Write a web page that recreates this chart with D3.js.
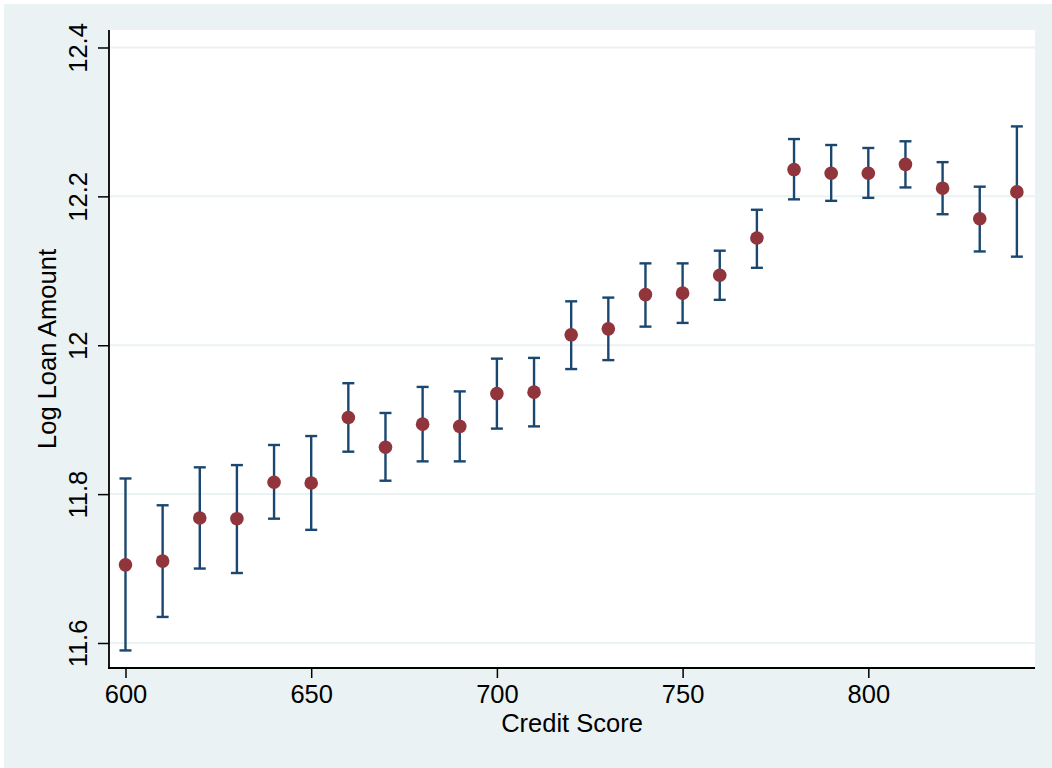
<!DOCTYPE html>
<html>
<head>
<meta charset="utf-8">
<script src="https://cdn.jsdelivr.net/npm/d3@7"></script>
<style>
  html, body { margin: 0; padding: 0; background: #ffffff; }
  svg { display: block; }
  text { font-family: "Liberation Sans", Arial, sans-serif; fill: #000; }
</style>
</head>
<body>
<svg id="chart" width="1052" height="768"></svg>
<script>
// Credit score bins and estimated log loan amount with 95% confidence bounds
const creditScores = [600, 610, 620, 630, 640, 650, 660, 670, 680, 690, 700, 710,
                      720, 730, 740, 750, 760, 770, 780, 790, 800, 810, 820, 830, 840];
const meanLogLoan = [11.705, 11.710, 11.768, 11.767, 11.816, 11.815, 11.903, 11.863,
                     11.894, 11.891, 11.935, 11.937, 12.014, 12.022, 12.068, 12.070,
                     12.094, 12.144, 12.236, 12.231, 12.231, 12.243, 12.211, 12.170, 12.206];
const lowerBound = [11.590, 11.635, 11.700, 11.694, 11.767, 11.752, 11.857, 11.818,
                    11.844, 11.844, 11.888, 11.891, 11.968, 11.980, 12.025, 12.030,
                    12.061, 12.104, 12.196, 12.194, 12.198, 12.212, 12.176, 12.126, 12.119];
const upperBound = [11.821, 11.785, 11.836, 11.839, 11.866, 11.878, 11.949, 11.909,
                    11.944, 11.938, 11.982, 11.983, 12.059, 12.064, 12.110, 12.110,
                    12.127, 12.182, 12.277, 12.269, 12.265, 12.274, 12.246, 12.213, 12.294];
const xTicks = [600, 650, 700, 750, 800];
const yTicks = [11.6, 11.8, 12, 12.2, 12.4];

const svg = d3.select("#chart");
const W = 1052, H = 768;
const plot = { left: 109, right: 1035, top: 30, bottom: 668 };
const bg = "#eaf2f3";
const barColor = "#1a476f";
const dotColor = "#90353b";
const fontSize = 25.5;

// Outer graph region
svg.append("rect").attr("x", 4).attr("y", 4).attr("width", W - 4).attr("height", H - 4).attr("fill", bg);
// Plot region
svg.append("rect")
  .attr("x", plot.left).attr("y", plot.top)
  .attr("width", plot.right - plot.left).attr("height", plot.bottom - plot.top)
  .attr("fill", "#ffffff");

const x = d3.scaleLinear().domain([595.56, 844.88]).range([plot.left, plot.right]);
const y = d3.scaleLinear().domain([11.5664, 12.4235]).range([plot.bottom, plot.top]);

// Horizontal grid lines
svg.append("g").selectAll("line").data(yTicks).join("line")
  .attr("x1", plot.left).attr("x2", plot.right)
  .attr("y1", d => y(d)).attr("y2", d => y(d))
  .attr("stroke", bg).attr("stroke-width", 2);

// Y axis
const yAxis = svg.append("g")
  .attr("transform", `translate(${plot.left},0)`)
  .call(d3.axisLeft(y).tickValues(yTicks).tickSize(11).tickFormat(d3.format("~g")));
yAxis.select(".domain").attr("d", `M0,${plot.top}V${plot.bottom + 1}`).attr("stroke", "#000").attr("stroke-width", 1.8);
yAxis.selectAll(".tick line").attr("stroke", "#000").attr("stroke-width", 1.5);
yAxis.selectAll(".tick text")
  .attr("x", null).attr("dy", null)
  .attr("transform", "translate(-22,0) rotate(-90)")
  .attr("text-anchor", "middle")
  .style("font-size", fontSize + "px")
  .style("font-family", '"Liberation Sans", Arial, sans-serif');

// X axis
const xAxis = svg.append("g")
  .attr("transform", `translate(0,${plot.bottom})`)
  .call(d3.axisBottom(x).tickValues(xTicks).tickSize(10).tickFormat(d3.format("d")));
xAxis.select(".domain").attr("d", `M${plot.left - 1},0H${plot.right}`).attr("stroke", "#000").attr("stroke-width", 1.8);
xAxis.selectAll(".tick line").attr("stroke", "#000").attr("stroke-width", 1.5);
xAxis.selectAll(".tick text")
  .attr("y", 35).attr("dy", null)
  .style("font-size", fontSize + "px")
  .style("font-family", '"Liberation Sans", Arial, sans-serif');

// Axis titles
svg.append("text")
  .attr("x", (plot.left + plot.right) / 2).attr("y", 731.5)
  .attr("text-anchor", "middle")
  .style("font-size", fontSize + "px")
  .text("Credit Score");
svg.append("text")
  .attr("transform", `translate(55.5,${(plot.top + plot.bottom) / 2}) rotate(-90)`)
  .attr("text-anchor", "middle")
  .style("font-size", fontSize + "px")
  .text("Log Loan Amount");

// Confidence interval bars with caps
const rows = creditScores.map((s, i) => ({ s, m: meanLogLoan[i], lo: lowerBound[i], hi: upperBound[i] }));
const capHalf = 6;
const bars = svg.append("g").attr("stroke", barColor).attr("stroke-width", 2.4);
bars.selectAll("line.stem").data(rows).join("line").attr("class", "stem")
  .attr("x1", d => x(d.s)).attr("x2", d => x(d.s))
  .attr("y1", d => y(d.lo)).attr("y2", d => y(d.hi));
bars.selectAll("line.capHi").data(rows).join("line").attr("class", "capHi")
  .attr("x1", d => x(d.s) - capHalf).attr("x2", d => x(d.s) + capHalf)
  .attr("y1", d => y(d.hi)).attr("y2", d => y(d.hi));
bars.selectAll("line.capLo").data(rows).join("line").attr("class", "capLo")
  .attr("x1", d => x(d.s) - capHalf).attr("x2", d => x(d.s) + capHalf)
  .attr("y1", d => y(d.lo)).attr("y2", d => y(d.lo));

// Point estimates
svg.append("g").selectAll("circle").data(rows).join("circle")
  .attr("cx", d => x(d.s)).attr("cy", d => y(d.m))
  .attr("r", 6.8).attr("fill", dotColor);
</script>
</body>
</html>
